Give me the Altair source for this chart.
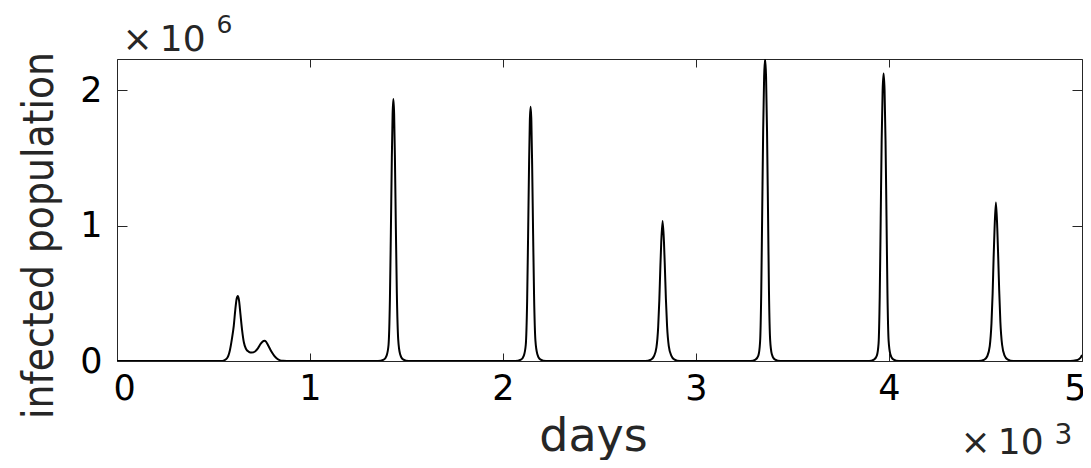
import altair as alt
import pandas as pd

# Values (days, infected population in millions)
days = [
    0, 540, 555, 570, 585, 595, 605, 613, 620, 626, 632, 640, 648, 657, 668, 683, 698,
    715, 730, 745, 756, 764, 772, 785, 800, 815, 830, 845, 860, 880,
    1352, 1382, 1397, 1407, 1414, 1419, 1424, 1428, 1432, 1436, 1440, 1445, 1450, 1457, 1467, 1482, 1512,
    2063, 2093, 2108, 2118, 2125, 2130, 2135, 2139, 2143, 2147, 2151, 2156, 2161, 2168, 2178, 2193, 2223,
    2737, 2767, 2782, 2795, 2804, 2810, 2815, 2820, 2827, 2834, 2839, 2844, 2850, 2859, 2872, 2887, 2917,
    3283, 3308, 3323, 3332, 3338, 3343, 3348, 3353, 3358, 3363, 3368, 3373, 3378, 3384, 3393, 3408, 3438,
    3897, 3922, 3937, 3946, 3952, 3957, 3962, 3967, 3972, 3977, 3982, 3987, 3992, 3998, 4007, 4022, 4052,
    4464, 4494, 4509, 4522, 4531, 4537, 4542, 4547, 4554, 4561, 4566, 4571, 4577, 4586, 4599, 4614, 4644,
    4940, 4970, 4985, 4995, 5000,
]
infected_millions = [
    0, 0, 0.005, 0.02, 0.08, 0.16, 0.26, 0.38, 0.46, 0.48, 0.45, 0.34, 0.23, 0.14, 0.09, 0.068, 0.062,
    0.07, 0.093, 0.128, 0.145, 0.149, 0.143, 0.11, 0.07, 0.038, 0.016, 0.005, 0.001, 0,
    0, 0.01, 0.04, 0.12, 0.45, 0.95, 1.5, 1.82, 1.934, 1.82, 1.5, 0.97, 0.5, 0.16, 0.05, 0.012, 0,
    0, 0.01, 0.04, 0.12, 0.44, 0.92, 1.45, 1.77, 1.877, 1.77, 1.45, 0.94, 0.48, 0.15, 0.05, 0.012, 0,
    0, 0.01, 0.035, 0.1, 0.25, 0.45, 0.68, 0.88, 1.033, 0.88, 0.68, 0.46, 0.26, 0.11, 0.04, 0.012, 0,
    0, 0.01, 0.04, 0.14, 0.5, 1.1, 1.7, 2.1, 2.23, 2.1, 1.7, 1.12, 0.52, 0.16, 0.05, 0.012, 0,
    0, 0.01, 0.04, 0.13, 0.48, 1.05, 1.63, 2.0, 2.123, 2.0, 1.63, 1.07, 0.5, 0.15, 0.05, 0.012, 0,
    0, 0.01, 0.035, 0.11, 0.28, 0.5, 0.76, 0.98, 1.171, 0.98, 0.76, 0.52, 0.29, 0.12, 0.04, 0.012, 0,
    0, 0.005, 0.015, 0.03, 0.045,
]
x_ticks = [0, 1000, 2000, 3000, 4000, 5000]
y_ticks = [0, 1, 2]

df = pd.DataFrame({"days": days, "infected": infected_millions})

FONT = "DejaVu Sans"
NARROW = "DejaVu Sans Condensed, Liberation Sans, sans-serif"
AX = "#262626"

xscale = alt.Scale(domain=[0, 5000], nice=False, zero=False)
yscale = alt.Scale(domain=[0, 2.23], nice=False)

main = alt.Chart(df).mark_line(
    color="black", strokeWidth=2, interpolate="monotone", clip=True
).encode(
    x=alt.X("days:Q", scale=xscale, axis=alt.Axis(
        title="days", values=x_ticks, labelExpr="datum.value / 1000 + ''",
        labelFont=FONT, labelFontSize=35, labelColor="black",
        labelBaseline="alphabetic", labelPadding=38,
        labelFlush=True, labelFlushOffset=4,
        ticks=False, tickSize=0, domain=False,
        grid=True, gridColor=AX, gridWidth=1, gridOpacity=1, gridDash=[8, 286, 8, 1000],
        titleFont=FONT, titleFontSize=46, titleFontWeight="normal", titleColor=AX,
        titleX=476, titleY=89, titleAlign="center", titleBaseline="alphabetic",
    )),
    y=alt.Y("infected:Q", scale=yscale, axis=alt.Axis(
        title="infected population", values=y_ticks,
        labelFont=FONT, labelFontSize=35, labelColor="black", labelPadding=15,
        ticks=False, tickSize=0, domain=False,
        grid=True, gridColor=AX, gridWidth=1, gridOpacity=1, gridDash=[10, 945, 10, 1000],
        titleFont=NARROW, titleFontSize=42, titleFontWeight="normal", titleColor=AX,
        titleAngle=270, titleX=-65, titleY=176, titleAlign="center", titleBaseline="alphabetic",
    )),
)

top_exp = alt.Chart(df).mark_line(opacity=0).encode(
    x=alt.X("days:Q", scale=xscale, axis=alt.Axis(
        orient="top", labels=False, ticks=False, domain=False, grid=False,
        title="×\u200910", titleFont=FONT, titleFontSize=36, titleFontWeight="normal", titleColor=AX,
        titleAngle=0, titleX=5, titleY=-9, titleAlign="left", titleBaseline="alphabetic",
    )),
    y=alt.Y("infected:Q", scale=yscale, axis=alt.Axis(
        orient="right", labels=False, ticks=False, domain=False, grid=False,
        title="6", titleFont=FONT, titleFontSize=25, titleFontWeight="normal", titleColor=AX,
        titleAngle=0, titleX=-866, titleY=-27, titleAlign="left", titleBaseline="alphabetic",
    )),
)

bottom_exp = alt.Chart(df).mark_line(opacity=0).encode(
    x=alt.X("days:Q", scale=xscale, axis=alt.Axis(
        orient="bottom", labels=False, ticks=False, domain=False, grid=False,
        title="×\u200910", titleFont=FONT, titleFontSize=36, titleFontWeight="normal", titleColor=AX,
        titleAngle=0, titleX=843, titleY=92, titleAlign="left", titleBaseline="alphabetic",
    )),
    y=alt.Y("infected:Q", scale=yscale, axis=alt.Axis(
        orient="right", labels=False, ticks=False, domain=False, grid=False,
        title="3", titleFont=FONT, titleFontSize=28, titleFontWeight="normal", titleColor=AX,
        titleAngle=0, titleX=-28, titleY=384, titleAlign="left", titleBaseline="alphabetic",
    )),
)

chart = alt.layer(main, top_exp, bottom_exp).resolve_axis(
    x="independent", y="independent"
).properties(
    width=965, height=302,
    autosize=alt.AutoSizeParams(type="none"),
    padding={"left": 109, "top": 51, "right": 1, "bottom": 99},
    background="white",
).configure_view(stroke=AX, strokeWidth=1)

chart.save("out.html", embed_options={"renderer": "svg", "actions": False})
